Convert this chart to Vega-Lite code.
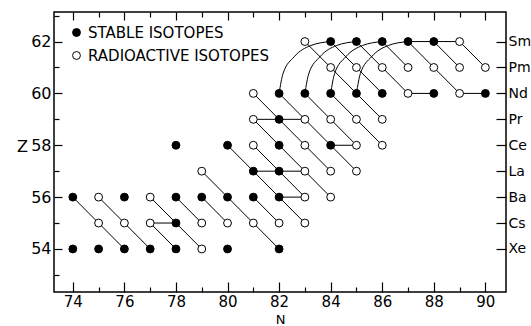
{
  "$schema": "https://vega.github.io/schema/vega-lite/v6.json",
  "width": 452,
  "height": 280,
  "autosize": {"type": "none"},
  "padding": {"left": 54, "top": 12, "right": 25, "bottom": 34},
  "background": "white",
  "datasets": {
    "points": [
      {"N": 74, "Z": 54, "type": "stable"}, {"N": 75, "Z": 54, "type": "stable"}, {"N": 76, "Z": 54, "type": "stable"}, {"N": 77, "Z": 54, "type": "stable"}, {"N": 78, "Z": 54, "type": "stable"}, {"N": 79, "Z": 54, "type": "radioactive"}, {"N": 80, "Z": 54, "type": "stable"}, {"N": 82, "Z": 54, "type": "stable"},
      {"N": 75, "Z": 55, "type": "radioactive"}, {"N": 76, "Z": 55, "type": "radioactive"}, {"N": 77, "Z": 55, "type": "radioactive"}, {"N": 78, "Z": 55, "type": "stable"}, {"N": 79, "Z": 55, "type": "radioactive"}, {"N": 80, "Z": 55, "type": "radioactive"}, {"N": 81, "Z": 55, "type": "radioactive"}, {"N": 82, "Z": 55, "type": "radioactive"}, {"N": 83, "Z": 55, "type": "radioactive"},
      {"N": 74, "Z": 56, "type": "stable"}, {"N": 75, "Z": 56, "type": "radioactive"}, {"N": 76, "Z": 56, "type": "stable"}, {"N": 77, "Z": 56, "type": "radioactive"}, {"N": 78, "Z": 56, "type": "stable"}, {"N": 79, "Z": 56, "type": "stable"}, {"N": 80, "Z": 56, "type": "stable"}, {"N": 81, "Z": 56, "type": "stable"}, {"N": 82, "Z": 56, "type": "stable"}, {"N": 83, "Z": 56, "type": "radioactive"}, {"N": 84, "Z": 56, "type": "radioactive"},
      {"N": 79, "Z": 57, "type": "radioactive"}, {"N": 81, "Z": 57, "type": "stable"}, {"N": 82, "Z": 57, "type": "stable"}, {"N": 83, "Z": 57, "type": "radioactive"}, {"N": 84, "Z": 57, "type": "radioactive"}, {"N": 85, "Z": 57, "type": "radioactive"},
      {"N": 78, "Z": 58, "type": "stable"}, {"N": 80, "Z": 58, "type": "stable"}, {"N": 81, "Z": 58, "type": "radioactive"}, {"N": 82, "Z": 58, "type": "stable"}, {"N": 83, "Z": 58, "type": "radioactive"}, {"N": 84, "Z": 58, "type": "stable"}, {"N": 85, "Z": 58, "type": "radioactive"}, {"N": 86, "Z": 58, "type": "radioactive"},
      {"N": 81, "Z": 59, "type": "radioactive"}, {"N": 82, "Z": 59, "type": "stable"}, {"N": 83, "Z": 59, "type": "radioactive"}, {"N": 84, "Z": 59, "type": "radioactive"}, {"N": 85, "Z": 59, "type": "radioactive"}, {"N": 86, "Z": 59, "type": "radioactive"},
      {"N": 81, "Z": 60, "type": "radioactive"}, {"N": 82, "Z": 60, "type": "stable"}, {"N": 83, "Z": 60, "type": "stable"}, {"N": 84, "Z": 60, "type": "stable"}, {"N": 85, "Z": 60, "type": "stable"}, {"N": 86, "Z": 60, "type": "stable"}, {"N": 87, "Z": 60, "type": "radioactive"}, {"N": 88, "Z": 60, "type": "stable"}, {"N": 89, "Z": 60, "type": "radioactive"}, {"N": 90, "Z": 60, "type": "stable"},
      {"N": 84, "Z": 61, "type": "radioactive"}, {"N": 85, "Z": 61, "type": "radioactive"}, {"N": 86, "Z": 61, "type": "radioactive"}, {"N": 87, "Z": 61, "type": "radioactive"}, {"N": 88, "Z": 61, "type": "radioactive"}, {"N": 89, "Z": 61, "type": "radioactive"}, {"N": 90, "Z": 61, "type": "radioactive"},
      {"N": 83, "Z": 62, "type": "radioactive"}, {"N": 84, "Z": 62, "type": "stable"}, {"N": 85, "Z": 62, "type": "stable"}, {"N": 86, "Z": 62, "type": "stable"}, {"N": 87, "Z": 62, "type": "stable"}, {"N": 88, "Z": 62, "type": "stable"}, {"N": 89, "Z": 62, "type": "radioactive"}
    ],
    "diag": [
      {"n1": 74, "z1": 56, "n2": 75, "z2": 55}, {"n1": 75, "z1": 55, "n2": 76, "z2": 54},
      {"n1": 75, "z1": 56, "n2": 76, "z2": 55}, {"n1": 76, "z1": 55, "n2": 77, "z2": 54},
      {"n1": 77, "z1": 55, "n2": 78, "z2": 54},
      {"n1": 77, "z1": 56, "n2": 78, "z2": 55}, {"n1": 78, "z1": 55, "n2": 79, "z2": 54},
      {"n1": 78, "z1": 56, "n2": 79, "z2": 55},
      {"n1": 79, "z1": 56, "n2": 80, "z2": 55},
      {"n1": 79, "z1": 57, "n2": 80, "z2": 56}, {"n1": 80, "z1": 56, "n2": 81, "z2": 55}, {"n1": 81, "z1": 55, "n2": 82, "z2": 54},
      {"n1": 81, "z1": 56, "n2": 82, "z2": 55},
      {"n1": 80, "z1": 58, "n2": 81, "z2": 57}, {"n1": 81, "z1": 57, "n2": 82, "z2": 56}, {"n1": 82, "z1": 56, "n2": 83, "z2": 55},
      {"n1": 81, "z1": 58, "n2": 82, "z2": 57}, {"n1": 82, "z1": 57, "n2": 83, "z2": 56},
      {"n1": 81, "z1": 59, "n2": 82, "z2": 58}, {"n1": 82, "z1": 58, "n2": 83, "z2": 57}, {"n1": 83, "z1": 57, "n2": 84, "z2": 56},
      {"n1": 81, "z1": 60, "n2": 82, "z2": 59}, {"n1": 82, "z1": 59, "n2": 83, "z2": 58}, {"n1": 83, "z1": 58, "n2": 84, "z2": 57},
      {"n1": 82, "z1": 60, "n2": 83, "z2": 59}, {"n1": 83, "z1": 59, "n2": 84, "z2": 58}, {"n1": 84, "z1": 58, "n2": 85, "z2": 57},
      {"n1": 83, "z1": 60, "n2": 84, "z2": 59}, {"n1": 84, "z1": 59, "n2": 85, "z2": 58},
      {"n1": 84, "z1": 60, "n2": 85, "z2": 59}, {"n1": 85, "z1": 59, "n2": 86, "z2": 58},
      {"n1": 83, "z1": 62, "n2": 84, "z2": 61}, {"n1": 84, "z1": 61, "n2": 85, "z2": 60}, {"n1": 85, "z1": 60, "n2": 86, "z2": 59},
      {"n1": 84, "z1": 62, "n2": 85, "z2": 61}, {"n1": 85, "z1": 61, "n2": 86, "z2": 60},
      {"n1": 85, "z1": 62, "n2": 86, "z2": 61}, {"n1": 86, "z1": 61, "n2": 87, "z2": 60},
      {"n1": 86, "z1": 62, "n2": 87, "z2": 61},
      {"n1": 87, "z1": 62, "n2": 88, "z2": 61}, {"n1": 88, "z1": 61, "n2": 89, "z2": 60},
      {"n1": 88, "z1": 62, "n2": 89, "z2": 61},
      {"n1": 89, "z1": 62, "n2": 90, "z2": 61}
    ],
    "horiz": [
      {"n1": 77, "z1": 55, "n2": 78, "z2": 55},
      {"n1": 81, "z1": 57, "n2": 83, "z2": 57},
      {"n1": 82, "z1": 56, "n2": 83, "z2": 56},
      {"n1": 81, "z1": 59, "n2": 83, "z2": 59},
      {"n1": 84, "z1": 58, "n2": 85, "z2": 58},
      {"n1": 87, "z1": 60, "n2": 88, "z2": 60},
      {"n1": 89, "z1": 60, "n2": 90, "z2": 60},
      {"n1": 87, "z1": 62, "n2": 89, "z2": 62}
    ],
    "arcs": [
      {"arc": "a82", "N": 82, "Z": 60}, {"arc": "a82", "N": 82.152, "Z": 60.765}, {"arc": "a82", "N": 82.586, "Z": 61.414}, {"arc": "a82", "N": 83.235, "Z": 61.848}, {"arc": "a82", "N": 84, "Z": 62},
      {"arc": "a83", "N": 83, "Z": 60}, {"arc": "a83", "N": 83.152, "Z": 60.765}, {"arc": "a83", "N": 83.586, "Z": 61.414}, {"arc": "a83", "N": 84.235, "Z": 61.848}, {"arc": "a83", "N": 85, "Z": 62},
      {"arc": "a84", "N": 84, "Z": 60}, {"arc": "a84", "N": 84.152, "Z": 60.765}, {"arc": "a84", "N": 84.586, "Z": 61.414}, {"arc": "a84", "N": 85.235, "Z": 61.848}, {"arc": "a84", "N": 86, "Z": 62},
      {"arc": "a85", "N": 85, "Z": 60}, {"arc": "a85", "N": 85.152, "Z": 60.765}, {"arc": "a85", "N": 85.586, "Z": 61.414}, {"arc": "a85", "N": 86.235, "Z": 61.848}, {"arc": "a85", "N": 87, "Z": 62}
    ]
  },
  "layer": [
    {
      "data": {"name": "diag"},
      "mark": {"type": "rule", "color": "black", "strokeWidth": 1},
      "encoding": {
        "x": {"field": "n1", "type": "quantitative", "scale": {"domain": [73.27, 90.8], "nice": false, "zero": false},
          "axis": {"orient": "bottom", "values": [74, 76, 78, 80, 82, 84, 86, 88, 90], "tickSize": -10, "labelPadding": 12, "labelFontSize": 15, "title": "N", "titleFontSize": 13, "titleX": 226, "titleY": 34, "titleBaseline": "bottom", "titleAlign": "center"}},
        "x2": {"field": "n2"},
        "y": {"field": "z1", "type": "quantitative", "scale": {"domain": [52.34, 63.14], "nice": false, "zero": false},
          "axis": {"orient": "left", "values": [54, 56, 58, 60, 62], "tickSize": -8, "labelPadding": 11, "title": "Z", "titleAngle": 0, "titleX": -32, "titleY": 134, "titleAlign": "center", "titleBaseline": "middle"}},
        "y2": {"field": "z2"}
      }
    },
    {
      "data": {"name": "horiz"},
      "mark": {"type": "rule", "color": "black", "strokeWidth": 1},
      "encoding": {
        "x": {"field": "n1", "type": "quantitative",
          "axis": {"orient": "bottom", "values": [75, 77, 79, 81, 83, 85, 87, 89], "tickSize": -5, "labels": false, "title": null}},
        "x2": {"field": "n2"},
        "y": {"field": "z1", "type": "quantitative",
          "axis": {"orient": "left", "values": [53, 55, 57, 59, 61, 63], "tickSize": -5, "labels": false, "title": null}},
        "y2": {"field": "z2"}
      }
    },
    {
      "data": {"name": "arcs"},
      "mark": {"type": "line", "color": "black", "strokeWidth": 1, "interpolate": "monotone"},
      "encoding": {
        "x": {"field": "N", "type": "quantitative",
          "axis": {"orient": "top", "values": [74, 76, 78, 80, 82, 84, 86, 88, 90], "tickSize": -8, "labels": false, "title": null}},
        "y": {"field": "Z", "type": "quantitative",
          "axis": {"orient": "right", "values": [54, 55, 56, 57, 58, 59, 60, 61, 62], "tickSize": -10, "labelPadding": 12, "title": null, "labelFontSize": 14,
            "labelExpr": "['Xe','Cs','Ba','La','Ce','Pr','Nd','Pm','Sm'][datum.value - 54]"}},
        "detail": {"field": "arc"}
      }
    },
    {
      "data": {"name": "points"},
      "mark": {"type": "circle", "size": 62, "stroke": "black", "strokeWidth": 1, "opacity": 1},
      "encoding": {
        "x": {"field": "N", "type": "quantitative",
          "axis": {"orient": "top", "values": [75, 77, 79, 81, 83, 85, 87, 89], "tickSize": -5, "labels": false, "title": null}},
        "y": {"field": "Z", "type": "quantitative", "axis": null},
        "fill": {"field": "type", "type": "nominal",
          "scale": {"domain": ["stable", "radioactive"], "range": ["black", "white"]},
          "legend": {"orient": "none", "legendX": 15, "legendY": 13, "title": null, "padding": 0,
            "symbolType": "circle", "symbolSize": 62, "symbolStrokeColor": "black", "symbolStrokeWidth": 1,
            "labelFont": "DejaVu Sans", "labelFontSize": 15, "labelColor": "black", "labelOffset": 4, "rowPadding": 7,
            "labelLimit": 300,
            "labelExpr": "datum.label == 'stable' ? 'STABLE ISOTOPES' : 'RADIOACTIVE ISOTOPES'"}}
      }
    }
  ],
  "resolve": {"axis": {"x": "independent", "y": "independent"}},
  "config": {
    "view": {"stroke": "black", "strokeWidth": 1.5},
    "axis": {"domain": false, "grid": false, "tickColor": "black", "tickWidth": 1.2, "labelColor": "black",
      "labelFont": "DejaVu Sans", "labelFontSize": 16, "titleFont": "DejaVu Sans", "titleFontSize": 16,
      "titleFontWeight": "normal", "titleColor": "black", "labelFlush": false, "labelOverlap": false, "labelBound": false}
  }
}
